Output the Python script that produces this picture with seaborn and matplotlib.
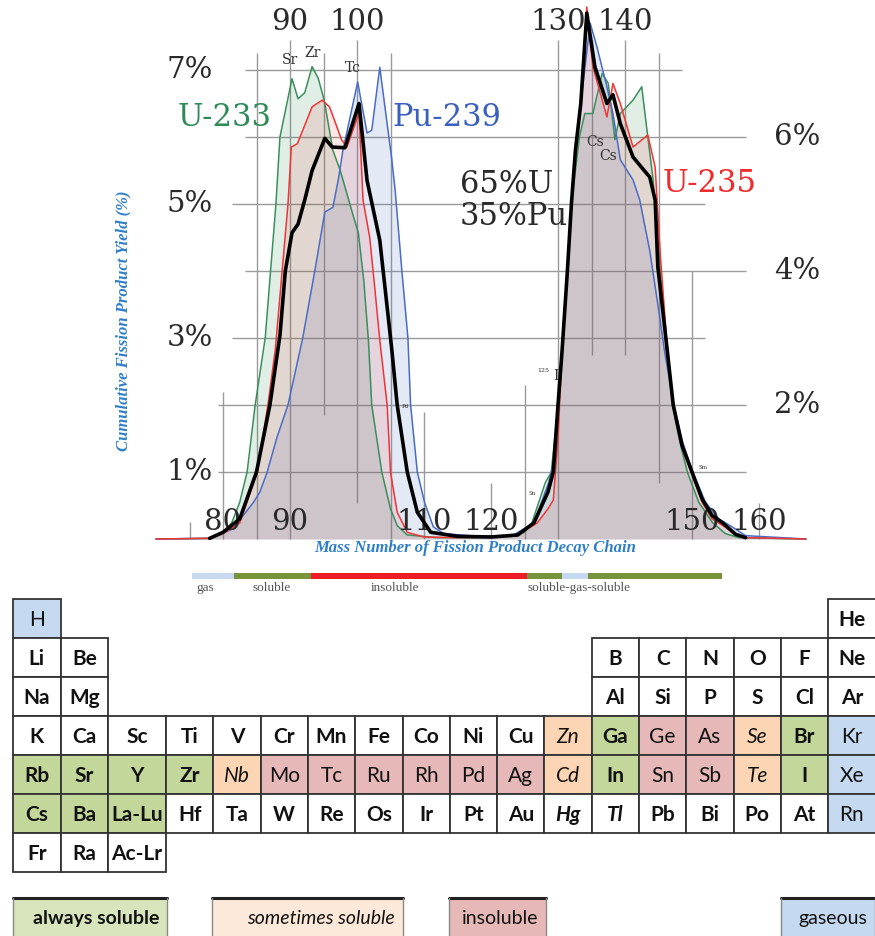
import matplotlib
matplotlib.use("Agg")
import matplotlib.pyplot as plt
import seaborn as sns
import pandas as pd
from matplotlib.patches import Rectangle

sns.set_theme(style="white")
plt.rcParams["font.family"] = ["DejaVu Serif", "DejaVu Sans"]

# ---------------- data ----------------
u233_mass = [70, 78, 80, 81.3, 82.5, 83.6, 84.8, 86.3, 87.9, 88.5, 90.3, 91.2, 92.2, 93.3, 94.2, 95.1,
             96.4, 97.5, 99.3, 100.2, 101.0, 101.7, 102.2, 103.7, 105.0, 106.0, 107.5, 112, 118, 123,
             125, 126.1, 128.1, 129.0, 130.0, 130.6, 131.4, 132.0, 133.2, 134.0, 135.2, 136.6, 137.5,
             138.5, 139.3, 141.2, 142.5, 143.4, 144.2, 144.9, 146.2, 147.1, 148.3, 149.3, 151.0, 153.1,
             155.0, 157.0, 167]
u233_yield = [0, 0.01, 0.1, 0.24, 0.55, 1.0, 2.0, 3.0, 5.0, 6.0, 6.87, 6.57, 6.66, 7.05, 6.88, 6.55,
              5.8, 5.5, 4.87, 4.57, 3.87, 2.97, 2.0, 1.0, 0.45, 0.2, 0.06, 0.02, 0.02, 0.04,
              0.1, 0.24, 0.84, 1.0, 2.0, 2.8, 4.0, 5.0, 6.0, 6.35, 6.35, 6.95, 6.8,
              5.96, 6.35, 6.55, 6.75, 6.0, 5.36, 4.46, 2.8, 2.0, 1.4, 1.0, 0.55, 0.24,
              0.08, 0.02, 0]

u235_mass = [70, 78, 80, 82.5, 85.1, 86.7, 87.8, 89.7, 90.2, 91.1, 93.3, 94.8, 95.9, 97.7, 98.5,
             100.3, 100.9, 101.9, 102.7, 103.4, 104.5, 105.0, 106.0, 107.5, 110, 115, 120, 124,
             126.9, 128.5, 129.3, 130.0, 130.6, 131.4, 132.0, 132.6, 133.4, 134.3, 135.2, 137.3,
             138.2, 139.3, 141.2, 143.4, 144.5, 145.3, 146.3, 147.2, 148.5, 149.9, 151.5, 153.0,
             154.6, 156.5, 158.0, 167]
u235_yield = [0, 0.01, 0.08, 0.24, 1.0, 2.0, 2.82, 5.0, 5.85, 5.9, 6.45, 6.55, 6.45, 5.96, 5.85,
              6.36, 5.06, 4.5, 3.7, 2.97, 2.0, 1.0, 0.4, 0.1, 0.03, 0.02, 0.03, 0.06,
              0.24, 0.45, 0.58, 1.5, 2.8, 4.0, 5.0, 5.8, 6.5, 7.94, 7.05, 6.3,
              6.8, 6.5, 5.85, 6.03, 5.55, 4.2, 2.85, 2.0, 1.4, 1.0, 0.55, 0.3,
              0.2, 0.07, 0.02, 0]

pu239_mass = [70, 78, 81.5, 83.0, 84.5, 85.5, 86.6, 88.0, 89.7, 91.9, 93.7, 95.2, 96.4, 97.2, 97.9,
              100.1, 101.5, 102.2, 103.4, 105.2, 105.7, 106.7, 107.6, 108.0, 109.0, 110.1, 111.4,
              113, 118, 123, 126.4, 128.6, 129.5, 130.0, 130.6, 131.4, 132.0, 132.6, 133.4, 134.8,
              135.8, 137.3, 138.2, 139.3, 141.2, 142.2, 143.7, 145.2, 145.9, 147.3, 148.6, 150.1,
              152.0, 154.0, 156.0, 158.0, 167]
pu239_yield = [0, 0.01, 0.15, 0.35, 0.54, 0.7, 1.0, 1.5, 2.0, 3.0, 4.0, 4.88, 4.95, 5.36, 5.8,
               6.82, 6.06, 6.1, 7.04, 5.66, 5.2, 4.0, 3.0, 2.0, 1.0, 0.54, 0.18,
               0.08, 0.04, 0.04, 0.24, 0.84, 1.2, 2.0, 2.8, 4.0, 5.0, 5.8, 6.5, 7.7,
               7.35, 6.75, 6.35, 5.66, 5.36, 5.06, 4.3, 3.3, 2.8, 2.0, 1.45, 1.0,
               0.55, 0.3, 0.18, 0.05, 0]

mix_mass = [78, 80, 82.5, 85.0, 87.0, 88.5, 89.3, 90.3, 91.2, 92.2, 93.3, 95.2, 96.3, 98.2,
            100.3, 101.5, 103.4, 104.6, 105.2, 106.0, 107.5, 109.0, 111.0, 115, 120, 124, 126.4,
            128.5, 129.3, 130.0, 130.6, 131.4, 132.0, 132.6, 133.4, 134.3, 135.5, 137.3, 138.2,
            139.3, 141.2, 143.7, 144.5, 144.9, 146.3, 147.2, 148.5, 150.0, 151.5, 153.0, 154.6,
            156.5, 158.0]
mix_yield = [0.01, 0.1, 0.3, 1.0, 2.0, 3.04, 4.0, 4.57, 4.7, 5.06, 5.5, 5.98, 5.85, 5.84,
             6.5, 5.35, 4.46, 3.37, 2.82, 2.0, 1.0, 0.4, 0.1, 0.04, 0.03, 0.06, 0.24,
             0.7, 1.0, 2.0, 2.8, 4.0, 5.0, 5.8, 6.5, 7.85, 7.05, 6.5, 6.63,
             6.2, 5.7, 5.4, 5.06, 4.06, 2.82, 2.0, 1.4, 1.0, 0.6, 0.35, 0.24,
             0.07, 0.02]

left_ticks = [1, 3, 5, 7]
right_ticks = [2, 4, 6]
top_ticks = [90, 100, 130, 140]
bottom_ticks = [80, 90, 110, 120, 150, 160]

series_names = ["U-233", "Pu-239", "U-235", "65%U 35%Pu"]

band_edges = [75.4, 81.6, 93.1, 125.4, 130.6, 134.5, 154.5]
band_states = ["gas", "soluble", "insoluble", "soluble", "gas", "soluble"]
band_labels = ["gas", "soluble", "insoluble", "soluble-gas-soluble"]

table_rows = [
    ["H"] + [""] * 16 + ["He"],
    ["Li", "Be"] + [""] * 10 + ["B", "C", "N", "O", "F", "Ne"],
    ["Na", "Mg"] + [""] * 10 + ["Al", "Si", "P", "S", "Cl", "Ar"],
    ["K", "Ca", "Sc", "Ti", "V", "Cr", "Mn", "Fe", "Co", "Ni", "Cu", "Zn", "Ga", "Ge", "As", "Se", "Br", "Kr"],
    ["Rb", "Sr", "Y", "Zr", "Nb", "Mo", "Tc", "Ru", "Rh", "Pd", "Ag", "Cd", "In", "Sn", "Sb", "Te", "I", "Xe"],
    ["Cs", "Ba", "La-Lu", "Hf", "Ta", "W", "Re", "Os", "Ir", "Pt", "Au", "Hg", "Tl", "Pb", "Bi", "Po", "At", "Rn"],
    ["Fr", "Ra", "Ac-Lr"],
]
always_soluble = ["Rb", "Sr", "Y", "Zr", "Cs", "Ba", "La-Lu", "Ga", "In", "Br", "I"]
sometimes_soluble = ["Nb", "Zn", "Cd", "Se", "Te"]
insoluble = ["Mo", "Tc", "Ru", "Rh", "Pd", "Ag", "Ge", "As", "Sn", "Sb"]
gaseous = ["H", "Kr", "Xe", "Rn"]
italic_plain = ["Hg", "Tl"]
legend_labels = ["always soluble", "sometimes soluble", "insoluble", "gaseous"]

# ---------------- styling ----------------
GREEN, RED, BLUE, BLACK = "#3a8f5c", "#ef3535", "#4a6cc4", "#000000"
TXT = "#2a2a2a"
AXLBL = "#2f7fc8"


def A(px):  # reference pixel x -> mass number
    return 80 + (px - 223) / 6.7


def P(py):  # reference pixel y -> percent
    return (539 - py) / 67


fig = plt.figure(figsize=(8.75, 9.36), dpi=100)
ax = fig.add_axes([0, 1 - 600 / 936, 1, 600 / 936])

# grid (segments of varying length as in the source figure)
hgrid = {7: (83.3, 148.5), 6: (83.3, 158), 5: (81.3, 152), 4: (83.3, 158),
         3: (81.3, 152), 2: (79.3, 158), 1: (79.3, 158)}
for lvl, (x0, x1) in hgrid.items():
    ax.hlines(lvl, x0, x1, color="#9a9a9a", lw=1.0, zorder=0.5)
vgrid = {75: (0, 0.25), 80: (0, 2.2), 85: (0, 7.25), 90: (0, 7.45), 95: (1.85, 7.25),
         100: (0.54, 7.45), 105: (0, 7.25), 110: (0, 1.9), 120: (0, 0.84), 125: (0, 2.3),
         130: (0, 7.45), 135: (2.75, 7.45), 140: (2.75, 7.45), 145: (0.84, 7.25),
         150: (0, 4.0), 160: (0, 0.54)}
for xv, (y0, y1) in vgrid.items():
    ax.vlines(xv, y0, y1, color="#9a9a9a", lw=1.0, zorder=0.5)

series = [
    ("U-233", u233_mass, u233_yield, GREEN, 0.15, 1.1),
    ("Pu-239", pu239_mass, pu239_yield, BLUE, 0.15, 1.1),
    ("U-235", u235_mass, u235_yield, RED, 0.12, 1.1),
]
for name, m, y, c, a, lw in series:
    ax.fill_between(m, y, 0, color=c, alpha=a, lw=0, zorder=1)
for name, m, y, c, a, lw in series:
    df = pd.DataFrame({"mass": m, "yield": y})
    sns.lineplot(data=df, x="mass", y="yield", ax=ax, color=c, lw=lw, sort=False,
                 estimator=None, zorder=3, legend=False)
dfm = pd.DataFrame({"mass": mix_mass, "yield": mix_yield})
sns.lineplot(data=dfm, x="mass", y="yield", ax=ax, color=BLACK, lw=2.6, sort=False,
             estimator=None, zorder=4, legend=False)
ax.set_xlim(A(0), A(875))
ax.set_ylim(P(600), P(0))
ax.axis("off")

# tick labels
for t in left_ticks:
    ax.text(A(190), t, f"{t}%", ha="center", va="center", size=21, color=TXT)
for t in right_ticks:
    ax.text(A(797), t, f"{t}%", ha="center", va="center", size=21, color=TXT)
for t in top_ticks:
    ax.text(t, P(22), str(t), ha="center", va="center", size=21, color=TXT)
for t in bottom_ticks:
    ax.text(t, P(522), str(t), ha="center", va="center", size=21, color=TXT)

# series labels
ax.text(A(225), P(117), series_names[0], ha="center", va="center", size=22, color="#2e8b57")
ax.text(A(447), P(117), series_names[1], ha="center", va="center", size=22, color="#3b5fbf")
ax.text(A(710), P(183), series_names[2], ha="center", va="center", size=22, color="#f02b2b")
ax.text(A(460), P(184), series_names[3].split()[0], ha="left", va="center", size=22, color=TXT)
ax.text(A(460), P(216), series_names[3].split()[1], ha="left", va="center", size=22, color=TXT)

# nuclide annotations
for s, px, py, fs in [("Sr", 290, 60, 10), ("Zr", 313, 53, 10), ("Tc", 353, 68, 10),
                      ("Cs", 595, 142, 10), ("Cs", 608, 156, 10), ("I", 556, 376, 10),
                      ("Pd", 405, 406, 4), ("Sn", 532, 493, 4), ("Sm", 703, 467, 4)]:
    ax.text(A(px), P(py), s, ha="center", va="center", size=fs, color="#333333", zorder=5)
ax.text(A(543), P(370), "125", ha="center", va="center", size=4.5, color="#333333", zorder=5)

# axis titles
ax.text(A(475), P(548), "Mass Number of Fission Product Decay Chain", ha="center", va="center",
        family="Liberation Serif", weight="bold", style="italic", size=12, color=AXLBL)
ax.text(A(123), P(321), "Cumulative Fission Product Yield (%)", ha="center", va="center",
        rotation=90, family="Liberation Serif", weight="bold", style="italic", size=12, color=AXLBL)

# solubility band under the axis
band_color = {"gas": "#c6d9f0", "soluble": "#77933c", "insoluble": "#ee1c25"}
segs = [(band_edges[i], band_edges[i + 1] - band_edges[i]) for i in range(len(band_states))]
ax.broken_barh(segs, (P(579), 6 / 67), facecolors=[band_color[s] for s in band_states], lw=0)
for lab, px in zip(band_labels, [205, 272, 395, 579]):
    ax.text(A(px), P(588), lab, ha="center", va="center", family="Liberation Serif",
            size=9.5, color="#555555")

# ---------------- periodic table ----------------
ax2 = fig.add_axes([0, 0, 1, 346 / 936])
ax2.set_xlim(0, 875)
ax2.set_ylim(936, 590)
ax2.axis("off")

col_edges = [13, 60.6, 108.2] + [166 + 47.3 * i for i in range(16)]
row_top, row_h = 599, 39
cell_bg = {"always": "#c4d79b", "sometimes": "#fcd5b4", "insoluble": "#e6b8b7",
           "gaseous": "#c5d9f1", "none": "#ffffff"}
for r, row in enumerate(table_rows):
    for c, el in enumerate(row):
        if not el:
            continue
        x0, x1 = col_edges[c], col_edges[c + 1]
        y0 = row_top + r * row_h
        weight, style = "bold", "normal"
        if el in always_soluble:
            kind = "always"
        elif el in sometimes_soluble:
            kind, weight, style = "sometimes", "normal", "italic"
        elif el in insoluble:
            kind, weight = "insoluble", "normal"
        elif el in gaseous:
            kind, weight = "gaseous", "normal"
        else:
            kind = "none"
            if el in italic_plain:
                style = "italic"
        ax2.add_patch(Rectangle((x0, y0), x1 - x0, row_h, facecolor=cell_bg[kind],
                                edgecolor="#333333", lw=1.3))
        ax2.text((x0 + x1) / 2, y0 + row_h / 2 + 1, el, ha="center", va="center",
                 family="Lato", weight=weight, style=style, size=15, color="#111111")

# legend boxes
leg_bg = ["#d8e4bc", "#fde9d9", "#e6b8b7", "#c5d9f1"]
leg_x = [(13, 167), (212, 403), (449, 546), (781, 875)]
leg_weight = ["bold", "normal", "normal", "normal"]
leg_style = ["normal", "italic", "normal", "normal"]
for lab, bg, (x0, x1), w, st in zip(legend_labels, leg_bg, leg_x, leg_weight, leg_style):
    ax2.add_patch(Rectangle((x0, 898), x1 - x0, 40, facecolor=bg, edgecolor="none"))
    ax2.plot([x0, x1], [898, 898], color="#222222", lw=2.2)
    ax2.plot([x0, x0], [898, 936], color="#888888", lw=1.0)
    ax2.plot([x1, x1], [898, 936], color="#888888", lw=1.0)
    ax2.text(x1 - 8, 918, lab, ha="right", va="center", family="Lato", weight=w, style=st,
             size=14, color="#111111")

fig.savefig("out.png", dpi=100)
